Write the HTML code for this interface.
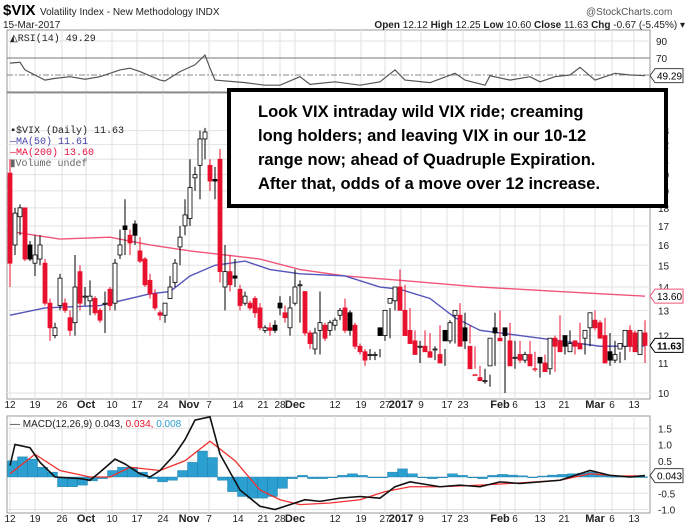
<!DOCTYPE html>
<html><head><meta charset="utf-8"><style>
body{margin:0;background:#fff;width:688px;height:529px;overflow:hidden;font-family:"Liberation Sans",sans-serif}
svg{position:absolute;left:0;top:0}
#note{position:absolute;left:227px;top:88px;width:406px;height:104px;border:4px solid #000;background:#fff;font:bold 16.5px "Liberation Sans",sans-serif;line-height:24px;padding:8px 0 0 27px;color:#000;white-space:nowrap}
</style></head><body>
<svg id="c" width="688" height="529"></svg>
<div id="note">Look VIX intraday wild VIX ride; creaming<br>long holders; and leaving VIX in our 10-12<br>range now; ahead of Quadruple Expiration.<br>After that, odds of a move over 12 increase.</div>
<script>
const opens=[20.1,16,17.5,18,16,15.1,15.3,15.1,13.3,12,13.2,13.3,12.7,12.5,14.7,13.6,13.4,13.5,13,13.3,13.9,13.3,15.5,17,16.5,17.1,15.7,15.3,14.3,13.7,12.9,12.8,13.5,14.2,15.9,17,17.4,19.8,20.6,22.4,20.6,19.7,21,14,14.7,14.5,13.9,13.3,13.3,13.5,13.1,12.2,12.3,12.4,13.3,12.9,12.3,13.3,14.1,13.8,12.1,11.5,12.2,12.4,12.2,12.4,12.8,13.1,12.9,12.4,11.6,11.4,11.3,11.3,12.3,12,13.3,13.4,14,13,12.2,11.8,11.6,11.6,11.4,11.5,11.3,12.2,11.8,12.8,12.8,12.3,11.6,10.6,10.5,10.4,10.9,12.3,11.9,12.3,11.8,11.2,11.3,11.1,11.3,10.8,11.2,11,10.8,11.9,11.8,12,11.4,11.8,11.7,11.9,12.3,12.6,12.5,12,11.4,11.1,11.5,11.6,12.2,12.1,11.3,12.1];
const highs=[21,18,18.2,18,16.2,16.5,16.5,15.3,13.5,12.5,14.6,13.5,13,15.5,15,14,14.3,13.6,13.1,13.8,14,15.3,16.8,18.5,16.8,17.3,16.4,15.4,14.6,13.9,13,13.3,14.5,15.3,17,18.5,21,20.5,23,23.2,21,20.5,21.7,16,15.5,15.3,14.1,13.8,13.4,13.6,13.3,12.4,12.5,12.6,13.6,13.2,13.6,14.8,14.3,13.8,12.2,12.3,13.8,12.5,12.6,12.7,13.1,13.5,13,12.5,11.7,11.5,11.5,11.4,11.5,12.6,13.1,14,14.8,14.1,13.1,12.2,11.8,12.2,12.1,11.6,12.4,11.5,12.6,12.8,13.3,12.9,12.4,11.6,10.9,10.8,10.6,12.9,13,12.1,12.5,11.8,11.8,11.4,11.8,11.4,11,11.3,11.1,12,12.8,12,12.2,11.8,12.5,12.2,12.4,13,12.6,12.7,12.1,11.8,11.4,11.9,12.4,12.2,12.1,12.6,12.3];
const lows=[14,15.5,16.5,15.2,15.2,14.5,15,13.2,11.8,11.9,13,12.9,12,12,13,13.2,12.8,12.8,12.5,12.1,13,13,15.3,15.5,15.5,16,15.1,14,13.5,13,12.6,12.5,13.5,14,15,16.5,17,19,18.5,21,19,18.5,14.2,13,13.8,14,13,13.2,13,12.7,12.2,12.1,12,12.1,12.8,12.5,12,13.2,12.5,12,11.5,11.3,11.3,11.8,12,12.2,12.6,12.1,12,11.5,11.3,10.9,11.1,11.1,11.2,11.8,11.9,13,13.3,12.9,11.9,11.6,11,11.4,11.3,11.1,11.1,10.9,11.7,11.7,12.3,11.5,11.7,10.8,10.4,10.3,10.2,10.9,11.8,10,11.7,10.8,11,11,11,10.7,10.5,10.9,10.6,10.7,11.5,11.3,11.4,11.3,11.5,11.3,11.6,12.2,12.2,11.8,10.9,11,11,11.1,11.4,11.5,11.3,11,10.6];
const closes=[15.1,17.7,18,15.3,15.3,15.5,16,13.3,12.3,12.3,14.4,13,12.2,14,13.3,13.6,13.6,12.9,12.6,13.3,13.2,15.1,16,16.8,16.1,16.5,15.2,14.1,13.7,13.1,12.8,13.3,14,15.1,16.4,17.6,19.2,20,22.4,22.9,19.6,19.6,14.7,14.7,14.1,14.4,13.2,13.6,13.1,12.9,12.3,12.3,12.2,12.2,13.1,12.7,13.1,14,14.1,12.1,11.7,12.1,12.5,11.9,12.5,12.6,13,12.2,12.2,11.6,11.4,11.1,11.3,11.3,12,13,13.5,14,13,12,11.7,11.3,11.6,11.4,11.2,11.5,11,11.8,12.5,13,11.6,11.8,10.8,10.6,10.4,10.4,11.9,12.1,11.8,12,10.9,11.2,11.1,11.3,10.9,10.8,11,10.7,11.9,11.6,11.4,11.6,11.7,11.6,11.5,12.2,12.9,12.3,11.9,11,11.1,11.3,11.7,12.2,11.6,11.4,12.2,11.63];
const ma50Day=[0,7,18,28,32,36,41,47,52,58,67,74,78,84,89,94,102,110,118,127];
const ma50=[12.8,13.1,13.2,13.7,13.8,14.5,15.0,15.2,14.8,14.6,14.5,14.0,13.9,13.5,12.7,12.2,12.0,11.8,11.6,11.61];
const ma200Day=[0,10,20,28,36,43,50,58,67,78,94,110,127];
const ma200=[16.7,16.3,16.4,16.0,15.7,15.5,15.3,14.8,14.5,14.3,14.0,13.8,13.6];
const rsiDay=[0,2,3,7,9,12,15,18,22,24,26,30,31,34,37,39,40,41,47,51,54,58,60,65,70,74,77,79,84,89,91,95,96,100,104,106,109,112,114,117,121,124,127];
const rsi=[64,65,56,44,46,48,45,48,56,58,54,44,43,54,62,73.5,58,44,41,38,38,48,39,42,38,42,56,44,41,52,44,38,49,44,48,42,48,50,59,44,52,50,49.29];
const macdDay=[0,1,4,6,9,14,16,18,21,23,26,28,30,33,35,37,40,42,46,50,53,56,59,62,66,70,74,77,80,82,86,90,94,98,102,106,110,114,116,120,124,127];
const macd=[0.35,1.0,0.9,0.45,0,-0.05,-0.1,0.15,0.55,0.4,0.1,0,0.2,0.7,1.15,1.75,1.9,0.7,-0.4,-0.9,-1.0,-0.85,-0.7,-0.75,-0.65,-0.6,-0.65,-0.3,-0.15,-0.2,-0.3,-0.25,-0.3,-0.15,-0.2,-0.15,-0.1,0.1,0.2,0.05,0,0.043];
const sigDay=[0,5,10,16,20,24,30,35,40,45,50,54,58,64,70,75,80,86,94,102,110,116,122,127];
const sig=[0.1,0.7,0.2,0,0,0.3,0.2,0.5,1.1,0.5,-0.4,-0.7,-0.85,-0.8,-0.7,-0.45,-0.3,-0.3,-0.25,-0.18,-0.1,0.1,0.03,0.034];
const hist=[0.5,0.62,0.55,0.3,0.15,-0.3,-0.3,-0.25,-0.12,-0.05,0.2,0.3,0.3,0.15,-0.05,-0.15,-0.1,0.2,0.45,0.8,0.6,-0.1,-0.45,-0.6,-0.65,-0.65,-0.6,-0.35,-0.05,0.05,-0.05,-0.05,0,0.05,0.1,0.05,0,0,0.15,0.25,0.1,0,-0.05,0,0.1,0.05,0,-0.05,0.05,0.08,0.06,0.04,0,0.03,0.06,0.08,0.1,0.12,0.15,0.05,0.02,0.02,0.01,0.008];
const priceTicks=[10,11,12,13,14,15,16,17,18,19,20,21,22,23];
const rsiTicks=[90,70,30];
const macdTicks=[1.5,1.0,0.5,-0.5,-1.0];
const xLabels=["12","19","26","Oct","10","17","24","Nov","7","14","21","28","Dec","12","19","27","2017","9","17","23","Feb","6","13","21","Mar","6","13"];
const xLabelPos=[10,35,62,86,112,137,163,189,209,238,263,280,295,335,361,385,401,421,447,463,500,515,540,564,595,612,634];

const S=document.getElementById('c');const NS='http://www.w3.org/2000/svg';
function el(t,a,txt){const e=document.createElementNS(NS,t);for(const k in a)e.setAttribute(k,a[k]);if(txt!==undefined)e.textContent=txt;S.appendChild(e);return e;}
const L=7,R=650;
const xD=i=>10+i*(635/127);
const yP=v=>393-315*Math.log(v/10);
const yR=v=>92-(v-30)*0.85;
const yM=v=>477-v*32.5;
let e;
e=el('rect',{x:L,y:30,width:R-L,height:62,fill:'#fff',stroke:'#999'});

e=el('rect',{x:L,y:93,width:R-L,height:306,fill:'#fff',stroke:'#999'});

e=el('rect',{x:L,y:416,width:R-L,height:97,fill:'#fff',stroke:'#999'});

xLabelPos.forEach((x,i)=>{[[30,92],[93,399],[416,513]].forEach(p=>{const g=el('line',{x1:x,x2:x,y1:p[0],y2:p[1],stroke:'#e2e2e2'});});
 [408,522].forEach(yy=>{const b=/[A-Z]|2017/.test(xLabels[i]);const t=el('text',{x:x,y:yy,'font-size':b?'11':'10','font-weight':b?'bold':'normal','text-anchor':'middle',fill:'#222'},xLabels[i]);});});
priceTicks.forEach(v=>{const y=yP(v);const g=el('line',{x1:L,x2:R,y1:y,y2:y,stroke:'#e2e2e2'});
 const t=el('text',{x:658,y:y+4,'font-size':'10',fill:'#222'},String(v));});
rsiTicks.forEach(v=>{const y=yR(v);const g=el('line',{x1:L,x2:R,y1:y,y2:y,stroke:v==70||v==30?'#777':'#e2e2e2'});
 const t=el('text',{x:656,y:y+4,'font-size':'10',fill:'#222'},String(v));});
e=el('line',{x1:L,x2:R,y1:yR(50),y2:yR(50),stroke:'#888','stroke-dasharray':'6,2,2,2'});
macdTicks.forEach(v=>{const y=yM(v);const g=el('line',{x1:L,x2:R,y1:y,y2:y,stroke:'#e2e2e2'});
 const t=el('text',{x:658,y:y+4,'font-size':'10',fill:'#222'},v.toFixed(1));});
hist.forEach((h,j)=>{const x=xD(j*2)-2.5;const y0=yM(0),y1=yM(h);const r=el('rect',{x:x,y:Math.min(y0,y1),width:10,height:Math.max(0.8,Math.abs(y1-y0)),fill:'#2a9fd0',stroke:'#1d7aa5','stroke-width':'0.4'});});
function poly(days,vals,fy,col,w,name){const p=el('polyline',{points:days.map((d,i)=>xD(d)+','+fy(vals[i])).join(' '),fill:'none',stroke:col,'stroke-width':w});return p;}
poly(sigDay,sig,yM,'#f03030',1.3,'macd-signal-line');
poly(macdDay,macd.map(v=>Math.min(v,1.85)),yM,'#111',1.6,'macd-line');
poly(rsiDay,rsi,yR,'#555',1.2,'rsi-line');
poly(ma200Day,ma200,yP,'#f0557a',1.4,'ma200-line');
poly(ma50Day,ma50,yP,'#5555bb',1.4,'ma50-line');
closes.forEach((c,i)=>{const o=opens[i],x=xD(i);const up=c>=o;const prev=i?closes[i-1]:o;const col=c<prev?'#e8112d':'#000';
 const w=el('line',{x1:x,x2:x,y1:yP(highs[i]),y2:yP(lows[i]),stroke:col,'stroke-width':1});
 const yt=yP(Math.max(o,c)),yb=yP(Math.min(o,c));
 const b=el('rect',{x:x-2,y:yt,width:4,height:Math.max(1,yb-yt),fill:up?'#fff':col,stroke:col,'stroke-width':0.8});});
function tag(y,txt,col,name){const p=el('path',{d:`M650 ${y} l5 -7 h28 v14 h-28 z`,fill:'#fff',stroke:col});
 const t=el('text',{x:657,y:y+4,'font-size':'10','font-weight':col=='#000'?'bold':'normal',fill:'#000'},txt);}
tag(yP(13.6),'13.60','#f0557a','ma200-value-tag');
tag(yP(11.63),'11.63','#000','close-value-tag');
tag(yR(49.29),'49.29','#444','rsi-value-tag');
tag(yM(0.043),'0.043','#444','macd-value-tag');
const T=(x,y,s,txt,a,name)=>{const t=el('text',Object.assign({x:x,y:y,'font-size':s,fill:'#222'},a||{}),txt);return t;};
T(3,15,'15','$VIX',{'font-weight':'bold',fill:'#000'},'symbol-title');
T(40,15,'10','Volatility Index - New Methodology  INDX',{},'symbol-description');
T(3,28,'10','15-Mar-2017',{},'chart-date');
T(586,15,'10','@StockCharts.com',{fill:'#555'},'stockcharts-logo');
const oh=T(685,28,'10','',{'text-anchor':'end'},'ohlc-summary');
[['Open ',1],['12.12  ',0],['High ',1],['12.25  ',0],['Low ',1],['10.60  ',0],['Close ',1],['11.63  ',0],['Chg ',1],['-0.67 (-5.45%) ▾',0]].forEach(p=>{const s=document.createElementNS(NS,'tspan');if(p[1])s.setAttribute('font-weight','bold');s.textContent=p[0];oh.appendChild(s);});
T(10,41,'10','◭RSI(14) 49.29',{'font-family':'Liberation Mono'},'rsi-legend');
T(10,133,'10','▪$VIX (Daily) 11.63',{'font-family':'Liberation Mono'},'price-legend');
T(10,144,'10','—MA(50) 11.61',{fill:'#4444aa','font-family':'Liberation Mono'},'ma50-legend');
T(10,155,'10','—MA(200) 13.60',{fill:'#e8113d','font-family':'Liberation Mono'},'ma200-legend');
T(10,166,'10','▮Volume undef',{fill:'#666','font-family':'Liberation Mono'},'volume-legend');
const m=T(10,427,'10','— MACD(12,26,9) 0.043, ',{},'macd-legend');
const s1=document.createElementNS(NS,'tspan');s1.setAttribute('fill','#e8112d');s1.textContent='0.034, ';m.appendChild(s1);
const s2=document.createElementNS(NS,'tspan');s2.setAttribute('fill','#2a9fd0');s2.textContent='0.008';m.appendChild(s2);
</script>
</body></html>
